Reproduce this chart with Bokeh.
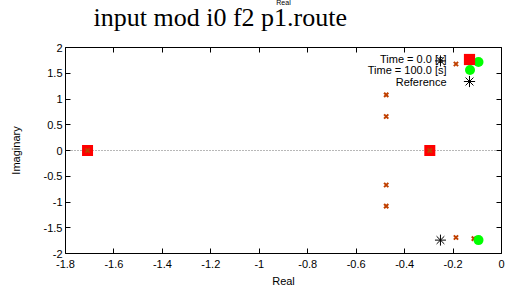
from bokeh.plotting import figure
from bokeh.models import (Range1d, FixedTicker, LinearAxis, Span, Legend, LegendItem, Label, Title)
from bokeh.embed import file_html
from bokeh.resources import INLINE

# ---- data ----
t0_re = [-1.709, -0.296]
t0_im = [0.0, 0.0]

mid_re = [-1.709, -0.296, -0.476, -0.476, -0.476, -0.476, -0.188, -0.188, -0.114, -0.114]
mid_im = [0.0, 0.0, 1.08, 0.66, -0.67, -1.08, 1.68, -1.69, 1.72, -1.71]

t100_re = [-0.095, -0.095]
t100_im = [1.72, -1.74]

ref_re = [-0.252, -0.252]
ref_im = [1.74, -1.74]

x_ticks = [-1.8, -1.6, -1.4, -1.2, -1.0, -0.8, -0.6, -0.4, -0.2, 0.0]
x_labels = ["-1.8", "-1.6", "-1.4", "-1.2", "-1", "-0.8", "-0.6", "-0.4", "-0.2", "0"]
y_ticks = [-2.0, -1.5, -1.0, -0.5, 0.0, 0.5, 1.0, 1.5, 2.0]
y_labels = ["-2", "-1.5", "-1", "-0.5", "0", "0.5", "1", "1.5", "2"]

legend_labels = ["Time = 0.0 [s]", "Time = 100.0 [s]", "Reference"]
title_text = "input mod i0 f2 p1.route"
top_label = "Real"
FONT = "Liberation Sans"

W, H = 515, 289
BL, BT, BR, BB = 65, 47, 14, 35
FW, FH = W - BL - BR, H - BT - BB

p = figure(width=W, height=H,
           x_range=Range1d(-1.8, 0), y_range=Range1d(-2, 2),
           output_backend="svg", toolbar_location=None,
           min_border_left=BL, min_border_top=BT, min_border_right=BR, min_border_bottom=BB,
           x_axis_label="Real", y_axis_label="Imaginary")
p.background_fill_color = "white"
p.border_fill_color = "white"
p.outline_line_color = "black"
p.outline_line_width = 1
p.xgrid.visible = False
p.ygrid.visible = False
p.title.text = ""

xlab = {t: l for t, l in zip(x_ticks, x_labels)}
ylab = {t: l for t, l in zip(y_ticks, y_labels)}

def style_axis(ax, ticks, labels, show_labels=True):
    ax.ticker = FixedTicker(ticks=ticks)
    ax.major_label_overrides = labels if show_labels else {t: "" for t in ticks}
    ax.minor_tick_line_color = None
    ax.major_tick_in = 5
    ax.major_tick_out = 0
    ax.major_tick_line_color = "black"
    ax.axis_line_color = None
    ax.major_label_text_font = FONT
    ax.major_label_text_font_size = "11px" if show_labels else "0px"
    ax.major_label_text_color = "black"
    ax.axis_label_text_font = FONT
    ax.axis_label_text_font_size = "11px"
    ax.axis_label_text_font_style = "normal"
    ax.axis_label_text_color = "black"

style_axis(p.xaxis[0], x_ticks, xlab)
p.xaxis[0].major_label_standoff = 6
p.xaxis[0].axis_label_standoff = 4
style_axis(p.yaxis[0], y_ticks, ylab)
p.yaxis[0].major_label_standoff = 3
p.yaxis[0].axis_label_standoff = 19

# top axis: inner ticks only; its (blank) label just keeps a gap under the title
top_ax = LinearAxis(axis_label="\u00a0")
style_axis(top_ax, x_ticks, xlab, show_labels=False)
top_ax.major_label_standoff = 0
top_ax.axis_label_text_font_size = "1px"
top_ax.axis_label_standoff = 12
p.add_layout(top_ax, "above")

# main serif title, left part of the top panel
main_title = Title(text=title_text, align="left", offset=28, vertical_align="bottom",
                   text_font="Liberation Serif", text_font_size="26px",
                   text_font_style="normal", text_color="black", standoff=0)
p.add_layout(main_title, "above")

# tiny stray axis title at the very top edge
stray = Title(text=top_label, align="center", vertical_align="bottom",
              text_font=FONT, text_font_size="7px", text_font_style="normal",
              text_color="black", standoff=-10)
p.add_layout(stray, "above")

right_ax = LinearAxis()
style_axis(right_ax, y_ticks, ylab, show_labels=False)
right_ax.major_label_standoff = 0
p.add_layout(right_ax, "right")

zero = Span(location=0, dimension="width", line_color="#707070", line_width=1,
            line_dash="1 2", level="underlay")
p.add_layout(zero)

r_t0 = p.scatter(t0_re, t0_im, marker="square", size=11, fill_color="#ff0000", line_color=None)
r_mid = p.scatter(mid_re, mid_im, marker="x", size=6, line_color="#c04000", line_width=2)
r_t100 = p.scatter(t100_re, t100_im, marker="circle", size=10, fill_color="#00ff00", line_color=None)
r_ref = p.scatter(ref_re, ref_im, marker="asterisk", size=11, line_color="black", line_width=1)

# key (gnuplot style: text right-aligned, sample to its right)
row_centres = [12.5, 23.5, 35.0]   # px below frame top
rends = [r_t0, r_t100, r_ref]
boxes = [28, 25, 28]
SAMPLE_X = 404                     # px right of frame left
TEXT_X = 381
for lab, rend, box, rc in zip(legend_labels, rends, boxes, row_centres):
    lg = Legend(items=[LegendItem(label=" ", renderers=[rend])],
                location=(SAMPLE_X - box / 2, FH - rc - box / 2),
                glyph_width=box, glyph_height=box,
                label_standoff=0, label_width=1, label_height=1,
                label_text_font_size="1px",
                padding=0, margin=0, spacing=0,
                background_fill_alpha=0, border_line_alpha=0)
    p.add_layout(lg, "center")
    p.add_layout(Label(x=TEXT_X, y=FH - rc, x_units="screen", y_units="screen",
                       text=lab, text_align="right", text_baseline="middle",
                       text_font=FONT, text_font_size="11px", text_color="black"))

open("out.html", "w").write(file_html(p, INLINE))
